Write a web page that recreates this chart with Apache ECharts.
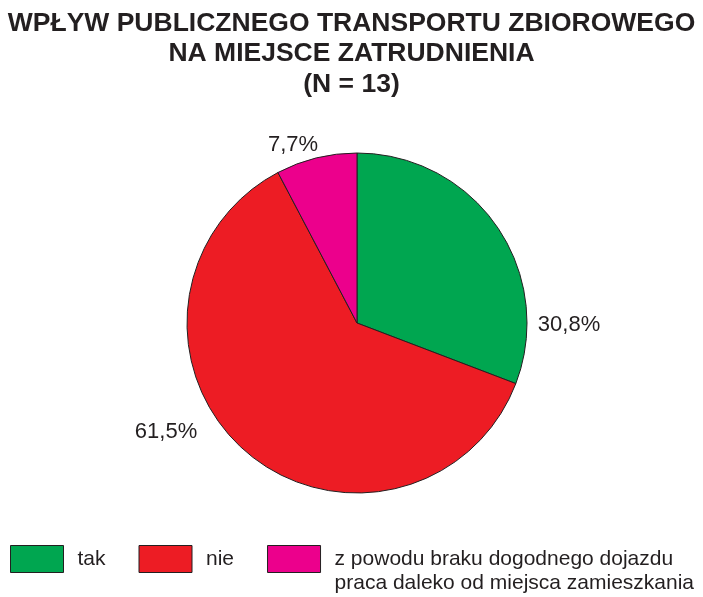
<!DOCTYPE html>
<html>
<head>
<meta charset="utf-8">
<script src="https://cdn.jsdelivr.net/npm/echarts@6/dist/echarts.min.js"></script>
<style>
html,body{margin:0;padding:0;background:#fff;}
#chart{width:703px;height:597px;}
</style>
</head>
<body>
<div id="chart"></div>
<script>
var titleLines = ['WPŁYW PUBLICZNEGO TRANSPORTU ZBIOROWEGO', 'NA MIEJSCE ZATRUDNIENIA', '(N = 13)'];
var categories = ['tak', 'nie', 'z powodu braku dogodnego dojazdu\npraca daleko od miejsca zamieszkania'];
var values = [30.8, 61.5, 7.7];
var colors = ['#00a650', '#ed1c24', '#ec008c'];
// label centres (styling, px)
var labelPos = [[569, 325], [166, 432], [293, 145]];

var chart = echarts.init(document.getElementById('chart'), null, {renderer: 'canvas'});
var data = categories.map(function (c, i) {
  return {name: c, value: values[i], itemStyle: {color: colors[i]}};
});
chart.setOption({
  animation: false,
  title: {
    text: titleLines.join('\n'),
    left: 'center',
    top: 8,
    padding: 0,
    textStyle: {
      fontFamily: '"Liberation Sans", Arial, sans-serif',
      fontWeight: 'bold',
      fontSize: 26.5,
      lineHeight: 30.5,
      color: '#231f20'
    }
  },
  legend: {
    left: 10,
    top: 523,
    padding: 0,
    orient: 'horizontal',
    itemWidth: 53,
    itemHeight: 27,
    itemGap: 33,
    icon: 'rect',
    itemStyle: {borderColor: '#231f20', borderWidth: 1},
    textStyle: {
      fontFamily: '"Liberation Sans", Arial, sans-serif',
      fontSize: 21,
      lineHeight: 24,
      color: '#231f20',
      padding: [0, 0, 0, 9]
    },
    formatter: function (name) {
      return name.indexOf('\n') >= 0 ? ' \n' + name : name;
    },
    data: categories
  },
  series: [{
    type: 'pie',
    center: [357, 323],
    radius: [0, 170],
    startAngle: 90,
    clockwise: true,
    data: data,
    itemStyle: {borderColor: '#231f20', borderWidth: 1},
    emphasis: {disabled: true},
    label: {
      show: true,
      position: 'outside',
      fontFamily: '"Liberation Sans", Arial, sans-serif',
      fontSize: 22,
      color: '#231f20',
      formatter: function (p) { return p.value.toFixed(1).replace('.', ',') + '%'; }
    },
    labelLine: {show: false},
    labelLayout: function (p) {
      var pos = labelPos[p.dataIndex];
      return {x: pos[0], y: pos[1], align: 'center', verticalAlign: 'middle'};
    }
  }]
});
</script>
</body>
</html>
